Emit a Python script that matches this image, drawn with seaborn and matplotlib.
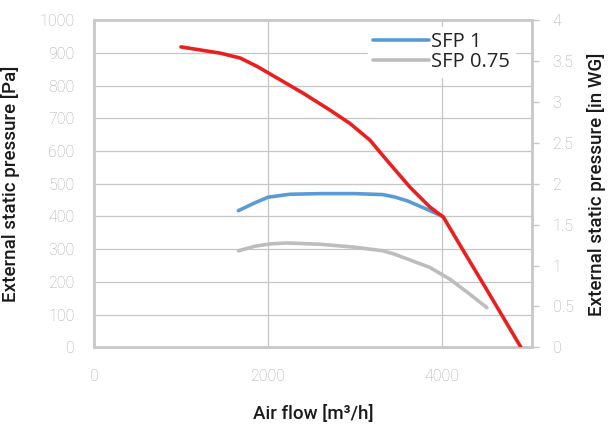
import matplotlib
matplotlib.use("Agg")
import matplotlib.pyplot as plt
import seaborn as sns
import pandas as pd

# Data
red_flow = [1000, 1450, 1680, 1870, 2000, 2400, 2710, 2940, 3170, 3330, 3630, 3860, 4015, 4245, 4475, 4705, 4905]
red_pa = [919, 900, 885, 860, 840, 778, 726, 685, 634, 583, 490, 429, 398, 295, 193, 90, 0]

sfp1_flow = [1660, 1850, 2000, 2250, 2600, 3000, 3320, 3450, 3600, 3800, 4010]
sfp1_pa = [418, 442, 459, 468, 470, 470, 467, 460, 448, 425, 400]

sfp075_flow = [1660, 1850, 2020, 2220, 2600, 3000, 3320, 3450, 3600, 3860, 4090, 4300, 4515]
sfp075_pa = [295, 309, 316, 319, 315, 306, 295, 285, 270, 244, 208, 166, 121]

legend_labels = ["SFP 1", "SFP 0.75"]
x_ticks = [0, 2000, 4000]
y_ticks = list(range(0, 1001, 100))
y2_ticks = [0, 0.5, 1, 1.5, 2, 2.5, 3, 3.5, 4]
y2_labels = ["0", "0.5", "1", "1.5", "2", "2.5", "3", "3.5", "4"]

sns.set_theme(style="white")
plt.rcParams['font.family'] = ['Roboto', 'DejaVu Sans']

fig = plt.figure(figsize=(6.14, 4.26), dpi=100)
ax = fig.add_axes([0.153, 0.185, 0.713, 0.767])

RED = "#e8201f"
BLUE = "#5b9bd5"
GREY = "#bdbdbd"

df_red = pd.DataFrame({"flow": red_flow, "pa": red_pa})
df_b = pd.DataFrame({"flow": sfp1_flow, "pa": sfp1_pa})
df_g = pd.DataFrame({"flow": sfp075_flow, "pa": sfp075_pa})

sns.lineplot(data=df_red, x="flow", y="pa", ax=ax, color=RED, lw=2.6, sort=False, zorder=4)
sns.lineplot(data=df_b, x="flow", y="pa", ax=ax, color=BLUE, lw=2.6, sort=False, label=legend_labels[0], zorder=3)
sns.lineplot(data=df_g, x="flow", y="pa", ax=ax, color=GREY, lw=2.6, sort=False, label=legend_labels[1], zorder=3)

ax.set_xlim(0, 5030)
ax.set_ylim(0, 1000)
ax.set_xticks(x_ticks)
ax.set_yticks(y_ticks)
ax.grid(True, color="#c6c6c6", lw=0.9)
ax.set_axisbelow(True)

tick_font = dict(family="Roboto", weight="light", size=11.5, color="#a9a9a9")
ax.set_xticklabels([str(t) for t in x_ticks], **tick_font)
ax.set_yticklabels([str(t) for t in y_ticks], **tick_font)
ax.tick_params(axis="both", length=0, pad=14)
ax.tick_params(axis="x", pad=16)

for s in ax.spines.values():
    s.set_color("#c8c8c8")
    s.set_linewidth(2)

label_font = dict(family="Roboto", weight="medium", size=13.5, color="#1a1a1a")
ax.set_xlabel("Air flow [m³/h]", labelpad=15, **label_font)
ax.set_ylabel("External static pressure [Pa]", labelpad=14, **label_font)

ax2 = ax.twinx()
ax2.set_ylim(0, 4)
ax2.set_yticks(y2_ticks)
ax2.set_yticklabels(y2_labels, **tick_font)
ax2.tick_params(axis="y", length=5, width=1, color="#c8c8c8", pad=10)
for s in ax2.spines.values():
    s.set_visible(False)
ax2.set_ylabel("External static pressure [in WG]", labelpad=10, **label_font)

leg = ax.legend(loc="upper right", bbox_to_anchor=(0.985, 1.01), frameon=True, fancybox=False,
                framealpha=1, edgecolor="white", facecolor="white", fontsize=14.5,
                handlelength=2.8, handletextpad=0.1, labelspacing=0.0, borderpad=0.25)
for t in leg.get_texts():
    t.set_family("Open Sans")
    t.set_color("#222222")
leg.set_zorder(5)

fig.savefig("out.png", dpi=100)
